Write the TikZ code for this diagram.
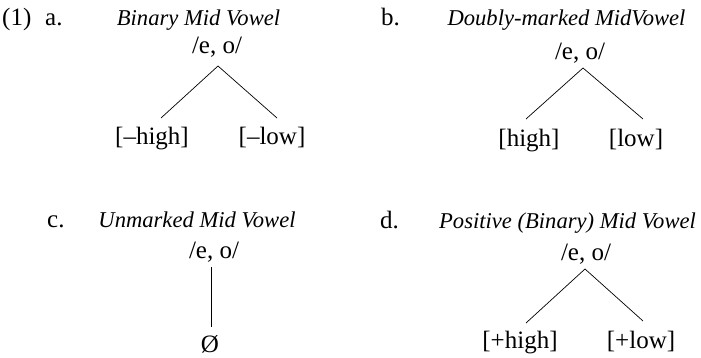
\documentclass[tikz,border=0pt]{standalone}
\usepackage{fontspec}
\setmainfont{Liberation Serif}
\newcommand{\eo}{/e,\hspace{0.25em}o/}
\begin{document}
\begin{tikzpicture}[x=1pt,y=-1pt,
  txt/.style={inner sep=0pt,anchor=base,font=\fontsize{25}{29}\selectfont},
  lbl/.style={txt,anchor=base west},
  ttl/.style={txt,anchor=base,font=\fontsize{22.6}{27}\selectfont\itshape},
  br/.style={line width=0.7pt}]
\useasboundingbox (0,0) rectangle (701,358);
% a
\node[lbl] (n1) at (2,26) {(1)};
\node[lbl] (la) at (45,26) {a.};
\node[ttl] (ta) at (198.5,26) {Binary Mid Vowel};
\node[txt] (ea) at (217,54) {\eo};
\node[txt] (ha) at (152,145) {[–high]};
\node[txt] (wa) at (272,145) {[–low]};
\coordinate (pa) at (218,66);
\coordinate (qa) at (161,118);
\coordinate (ra) at (277,118);
\draw[br] (qa) -- (pa) -- (ra);
% b
\node[lbl] (lb) at (381,26) {b.};
\node[ttl] (tb) at (566.5,26) {Doubly-marked MidVowel};
\node[txt] (eb) at (580,60) {\eo};
\node[txt] (hb) at (529,147) {[high]};
\node[txt] (wb) at (636,147) {[low]};
\coordinate (pb) at (583,68);
\coordinate (qb) at (526,119);
\coordinate (rb) at (643,119);
\draw[br] (qb) -- (pb) -- (rb);
% c
\node[lbl] (lc) at (47,227) {c.};
\node[ttl] (tc) at (197,227) {Unmarked Mid Vowel};
\node[txt] (ec) at (214,258) {\eo};
\node[txt] (zc) at (210,352) {Ø};
\coordinate (pc) at (211,267);
\coordinate (qc) at (211,327);
\draw[br] (pc) -- (qc);
% d
\node[lbl] (ld) at (380,229) {d.};
\node[ttl] (td) at (567.5,229) {Positive (Binary) Mid Vowel};
\node[txt] (ed) at (586,260) {\eo};
\node[txt] (hd) at (520,348) {[+high]};
\node[txt] (wd) at (641,348) {[+low]};
\coordinate (pd) at (585,269);
\coordinate (qd) at (526,323);
\coordinate (rd) at (643,321);
\draw[br] (qd) -- (pd) -- (rd);
\end{tikzpicture}
\end{document}
